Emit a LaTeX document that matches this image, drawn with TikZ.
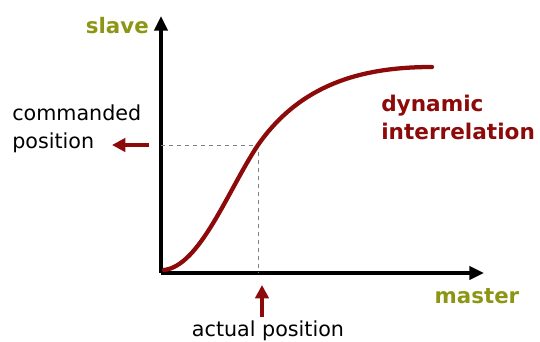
\documentclass[tikz,border=0pt]{standalone}
\usepackage{fontspec}
\setmainfont{DejaVu Sans}
\usetikzlibrary{arrows.meta}
\definecolor{curvered}{RGB}{140,10,10}
\definecolor{axisolive}{RGB}{140,150,20}
\tikzset{
  axis/.style={line width=2.4pt,-{Triangle[length=11pt,width=10pt]}},
  pointer/.style={curvered,line width=2.6pt,-{Triangle[length=10pt,width=10pt]}},
  guide/.style={gray,dashed,line width=0.5pt},
  axislabel/.style={text=axisolive,font=\bfseries\fontsize{16}{18}\selectfont,inner sep=0pt},
  plainlabel/.style={font=\fontsize{15.5}{21}\selectfont,inner sep=0pt,align=left},
}
\begin{document}
\begin{tikzpicture}[x=0.75pt,y=-0.75pt]
  \useasboundingbox (0,0) rectangle (540,342);

  % axes
  \coordinate (origin) at (161,273);
  \coordinate (ytip) at (161,16);
  \coordinate (xtip) at (484,273);
  \draw[axis] (origin) -- (ytip);
  \draw[axis] (origin) -- (xtip);
  \node[axislabel,anchor=east] (slave) at (149,26) {slave};
  \node[axislabel] (master) at (477,296) {master};

  % working point
  \coordinate (start) at (164,270);
  \coordinate (work) at (258,145);
  \coordinate (finish) at (432,67);
  \draw[guide] (origin |- work) -- (work) -- (origin -| work);

  % curve
  \draw[curvered,line width=3.2pt,line cap=round]
    (start) .. controls (200,266) and (228,190) .. (work)
    .. controls (300,85) and (360,67) .. (finish);
  \node[plainlabel,text=curvered,font=\bfseries\fontsize{16.2}{21}\selectfont,anchor=west]
    (relation) at (381,117) {dynamic\\interrelation};

  % commanded and actual position
  \node[plainlabel,anchor=west] (commanded) at (12,129) {commanded\\position};
  \coordinate (cmdfrom) at (149,145);
  \coordinate (cmdto) at (112,145);
  \draw[pointer] (cmdfrom) -- (cmdto);
  \node[plainlabel] (actual) at (268,331) {actual position};
  \coordinate (actfrom) at (262,317);
  \coordinate (actto) at (262,285);
  \draw[pointer] (actfrom) -- (actto);
\end{tikzpicture}
\end{document}
